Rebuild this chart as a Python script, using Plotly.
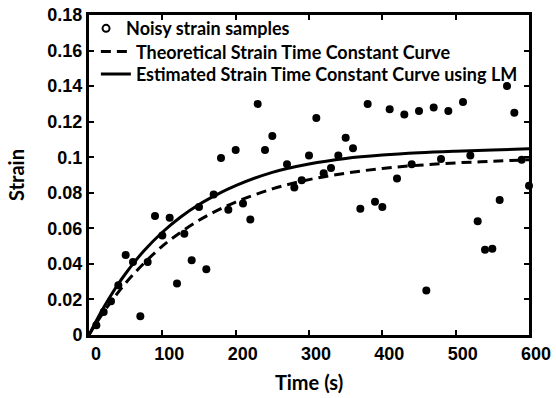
import plotly.graph_objects as go

# Noisy samples (time s, strain)
sample_t = [10, 20, 30, 40, 50, 60, 70, 80, 90, 100,
            110, 120, 130, 140, 150, 160, 170, 180, 190, 200,
            210, 220, 230, 240, 250, 270, 280, 290, 300, 310,
            320, 330, 340, 350, 360, 370, 380, 390, 400, 410,
            420, 430, 440, 450, 460, 470, 480, 490, 510, 520,
            530, 540, 550, 560, 570, 580, 590, 600]
sample_strain = [0.0055, 0.013, 0.019, 0.028, 0.045, 0.041, 0.0105, 0.041, 0.067, 0.056,
                 0.066, 0.029, 0.057, 0.042, 0.072, 0.037, 0.079, 0.0996, 0.0705, 0.104,
                 0.074, 0.065, 0.130, 0.104, 0.112, 0.096, 0.083, 0.087, 0.101, 0.122,
                 0.091, 0.094, 0.101, 0.111, 0.105, 0.071, 0.130, 0.075, 0.072, 0.127,
                 0.088, 0.124, 0.096, 0.126, 0.025, 0.128, 0.099, 0.126, 0.131, 0.101,
                 0.064, 0.048, 0.0485, 0.076, 0.140, 0.125, 0.0986, 0.084]

# Curves
curve_t = [0, 10, 20, 30, 40, 50, 60, 75, 100, 125, 150, 175, 200, 250, 300, 350,
           400, 450, 500, 550, 600]
theoretical = [0, 0.0067, 0.0129, 0.0187, 0.0241, 0.0292, 0.0339, 0.0404, 0.0500, 0.0578,
               0.0645, 0.0701, 0.0748, 0.0822, 0.0874, 0.0910, 0.0937, 0.0955, 0.0968,
               0.0977, 0.0986]
estimated = [0, 0.0081, 0.0155, 0.0224, 0.0288, 0.0346, 0.0400, 0.0474, 0.0578, 0.0664,
             0.0734, 0.0791, 0.0840, 0.0915, 0.0962, 0.0993, 0.1012, 0.1025, 0.1034,
             0.1041, 0.1047]

x_ticks = [0, 100, 200, 300, 400, 500, 600]
y_ticks = [0, 0.02, 0.04, 0.06, 0.08, 0.1, 0.12, 0.14, 0.16, 0.18]
y_tick_text = ["0", "0.02", "0.04", "0.06", "0.08", "0.1", "0.12", "0.14", "0.16", "0.18"]

fig = go.Figure()

# legend-only entry for samples (open "o" symbol as in the reference)
fig.add_trace(go.Scatter(x=[None], y=[None], mode="markers", name="Noisy strain samples",
                         legend="legend",
                         marker=dict(symbol="circle-open", size=7, color="black",
                                     line=dict(width=2, color="black"))))
fig.add_trace(go.Scatter(x=curve_t, y=theoretical, mode="lines",
                         name="Theoretical Strain Time Constant Curve", legend="legend2",
                         line=dict(color="black", width=3, dash="10px,6px", shape="spline")))
fig.add_trace(go.Scatter(x=curve_t, y=estimated, mode="lines",
                         name="Estimated Strain Time Constant Curve using LM", legend="legend3",
                         line=dict(color="black", width=3, shape="spline")))
fig.add_trace(go.Scatter(x=sample_t, y=sample_strain, mode="markers", showlegend=False,
                         cliponaxis=False,
                         marker=dict(symbol="circle", size=8, color="black")))

tick_font = dict(family="Liberation Sans, Arial, sans-serif", size=18, color="black", weight="bold")
title_font = dict(family="Lato, sans-serif", size=20, color="black", weight="bold")
leg_font = dict(family="Lato, sans-serif", size=18, color="black", weight="bold")

PLOT_L, PLOT_W = 89, 447.7
PLOT_T, PLOT_H = 5, 330


def lx(px):
    return (px - PLOT_L) / PLOT_W


def ly(py):
    return 1 - (py - PLOT_T) / PLOT_H


def leg(xpx, ypx):
    return dict(x=lx(xpx), y=ly(ypx), xanchor="left", yanchor="top",
                bgcolor="rgba(0,0,0,0)", borderwidth=0, font=leg_font, itemwidth=30)


fig.update_layout(
    width=556, height=398,
    margin=dict(l=89, r=19, t=5, b=63),
    paper_bgcolor="white", plot_bgcolor="white",
    showlegend=True,
    legend=leg(86, 0),
    legend2=leg(96, 24),
    legend3=leg(96, 47),
    xaxis=dict(range=[0, 600], tickvals=x_ticks, ticktext=[str(v) for v in x_ticks],
               showline=True, linecolor="black", linewidth=3, mirror="ticks",
               ticks="inside", ticklen=5, tickwidth=2, tickcolor="black",
               showgrid=False, zeroline=False, ticklabeloverflow="allow",
               tickfont=tick_font, ticklabelshift=7,
               title=dict(text="Time (s)", font=title_font, standoff=14)),
    yaxis=dict(range=[0, 0.18], tickvals=y_ticks, ticktext=y_tick_text,
               showline=True, linecolor="black", linewidth=3, mirror="ticks",
               ticks="inside", ticklen=5, tickwidth=2, tickcolor="black",
               showgrid=False, zeroline=False, ticklabeloverflow="allow",
               tickfont=tick_font,
               title=dict(text="Strain", font=title_font, standoff=18)),
)

fig.write_html("out.html")
